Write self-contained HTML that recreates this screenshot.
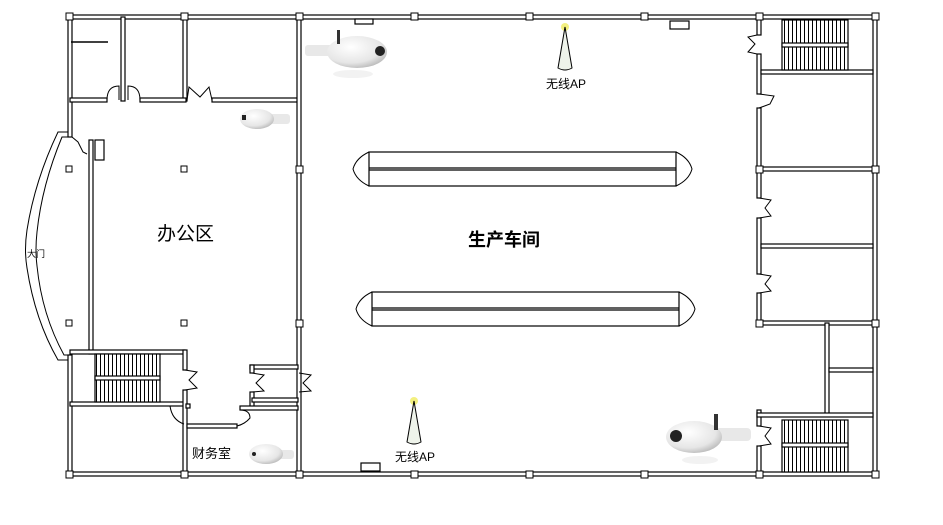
<!DOCTYPE html>
<html><head><meta charset="utf-8"><style>
html,body{margin:0;padding:0;background:#fff;}
svg{display:block;}
text{font-family:"Liberation Sans","Noto Sans CJK SC",sans-serif;}
</style></head><body>
<svg width="943" height="525" viewBox="0 0 943 525" xmlns="http://www.w3.org/2000/svg">
<defs>
<radialGradient id="cam" cx="0.4" cy="0.35" r="0.7"><stop offset="0" stop-color="#ffffff"/><stop offset="0.7" stop-color="#e6e6e6"/><stop offset="1" stop-color="#b8b8b8"/></radialGradient>
<pattern id="st" width="4" height="10" patternUnits="userSpaceOnUse"><rect width="4" height="10" fill="#fff"/><line x1="0.5" y1="0" x2="0.5" y2="10" stroke="#000" stroke-width="1"/></pattern>
</defs>
<g fill="#fff" stroke="#000" stroke-width="1.2">
<!-- outer walls -->
<rect x="69" y="15" width="807" height="4"/>
<rect x="69" y="472" width="807" height="4"/>
<rect x="873" y="15" width="4" height="461"/>
<rect x="68" y="15" width="4" height="122"/>
<rect x="68" y="355" width="4" height="121"/>
<!-- top-left rooms -->
<rect x="121" y="17" width="4" height="84"/>
<rect x="183" y="17" width="4" height="84"/>
<line x1="71" y1="42" x2="108" y2="42" stroke-width="1.5"/>
<rect x="70" y="98" width="37" height="4"/>
<rect x="140" y="98" width="46" height="4"/>
<rect x="212" y="98" width="88" height="4"/>
<!-- office divider wall -->
<rect x="297" y="17" width="4" height="457"/>
<rect x="89" y="140" width="4" height="214"/>
<rect x="95" y="140" width="9" height="20"/>
<!-- lower left stair block -->
<rect x="70" y="350" width="115" height="4"/>
<rect x="70" y="402" width="115" height="4"/>
<rect x="183" y="350" width="4" height="20"/>
<rect x="183" y="390" width="4" height="84"/>
<rect x="95" y="354" width="65" height="48" fill="url(#st)"/>
<rect x="95" y="376" width="65" height="4"/>
<!-- small room near office -->
<rect x="250" y="365" width="48" height="4"/>
<rect x="250" y="365" width="4" height="8"/>
<rect x="250" y="392" width="4" height="16"/>
<rect x="252" y="398" width="46" height="4"/>
<rect x="240" y="406" width="58" height="4"/>
<rect x="187" y="424" width="50" height="4"/>
<rect x="186" y="404" width="4" height="4"/>
<!-- right side -->
<rect x="757" y="17" width="4" height="18"/>
<rect x="757" y="54" width="4" height="40"/>
<rect x="757" y="108" width="4" height="90"/>
<rect x="757" y="218" width="4" height="56"/>
<rect x="757" y="293" width="4" height="32"/>
<rect x="757" y="410" width="4" height="16"/>
<rect x="757" y="446" width="4" height="28"/>
<rect x="761" y="70" width="112" height="4"/>
<rect x="761" y="167" width="112" height="4"/>
<rect x="761" y="244" width="112" height="4"/>
<rect x="757" y="321" width="118" height="4"/>
<rect x="825" y="323" width="4" height="92"/>
<rect x="829" y="368" width="44" height="4"/>
<rect x="757" y="413" width="116" height="4"/>
<rect x="782" y="20" width="66" height="50" fill="url(#st)"/>
<rect x="782" y="43" width="66" height="4"/>
<rect x="782" y="420" width="66" height="52" fill="url(#st)"/>
<rect x="782" y="443" width="66" height="4"/>
<!-- fixtures -->
<rect x="670" y="21" width="19" height="8"/>
<rect x="361" y="463" width="19" height="8"/>
<rect x="355" y="19" width="18" height="5"/>
</g>
<!-- columns -->
<g fill="#fff" stroke="#000" stroke-width="1">
<rect x="66" y="13" width="7" height="7"/><rect x="181" y="13" width="7" height="7"/><rect x="296" y="13" width="7" height="7"/><rect x="411" y="13" width="7" height="7"/><rect x="526" y="13" width="7" height="7"/><rect x="641" y="13" width="7" height="7"/><rect x="756" y="13" width="7" height="7"/><rect x="872" y="13" width="7" height="7"/>
<rect x="66" y="471" width="7" height="7"/><rect x="181" y="471" width="7" height="7"/><rect x="296" y="471" width="7" height="7"/><rect x="411" y="471" width="7" height="7"/><rect x="526" y="471" width="7" height="7"/><rect x="641" y="471" width="7" height="7"/><rect x="756" y="471" width="7" height="7"/><rect x="872" y="471" width="7" height="7"/>
<rect x="66" y="166" width="6" height="6"/><rect x="181" y="166" width="6" height="6"/><rect x="296" y="166" width="7" height="7"/><rect x="756" y="166" width="7" height="7"/><rect x="872" y="166" width="7" height="7"/>
<rect x="66" y="320" width="6" height="6"/><rect x="181" y="320" width="6" height="6"/><rect x="296" y="320" width="7" height="7"/><rect x="756" y="320" width="7" height="7"/><rect x="872" y="320" width="7" height="7"/>
</g>
<!-- doors -->
<g fill="none" stroke="#000" stroke-width="1">
<path d="M107 100 Q107 86 119 86 L119 100"/><path d="M140 100 Q140 86 128 86 L128 100"/>
<path d="M187 100 L189 87 L200 97 L209 87 L212 100"/>
<path d="M185 370 L197 372 L189 380 L197 388 L185 390"/>
<path d="M252 373 L264 375 L256 383 L264 391 L252 392"/>
<path d="M299 373 L311 375 L303 383 L311 391 L299 392"/>
<path d="M170 406 Q172 420 184 424"/><path d="M240 410 Q250 410 250 418 Q245 424 237 426"/>
<path d="M757 35 L748 37 L755 44 L748 52 L757 54"/>
<path d="M759 94 L774 96 L770 104 L759 108"/>
<path d="M759 198 L771 200 L765 208 L771 216 L759 218"/>
<path d="M759 274 L771 276 L765 284 L771 291 L759 293"/>
<path d="M759 426 L771 428 L765 436 L771 444 L759 446"/>
<path d="M72 137 L78 142 L83 152 L87 154"/>
</g>
<!-- curved facade -->
<g fill="none" stroke="#000" stroke-width="1">
<path d="M68 132 L58 132 Q35 180 27 230 Q24 250 27 268 Q35 320 58 360 L68 360"/>
<path d="M68 137 L62 137 Q42 185 37 232 Q35 250 37 266 Q42 315 64 355 L68 355"/>
<text x="27" y="257" font-size="9" fill="#000" stroke="none">大门</text>
</g>
<!-- conveyors -->
<g fill="#fff" stroke="#000" stroke-width="1.2">
<rect x="369" y="152" width="307" height="34"/>
<line x1="369" y1="168" x2="676" y2="168"/><line x1="369" y1="170" x2="676" y2="170"/>
<path d="M369 152 Q356 158 353 169 Q356 180 369 186" fill="none" stroke-width="1"/>
<path d="M676 152 Q689 158 692 169 Q689 180 676 186" fill="none" stroke-width="1"/>
<rect x="372" y="292" width="307" height="34"/>
<line x1="372" y1="308" x2="679" y2="308"/><line x1="372" y1="310" x2="679" y2="310"/>
<path d="M372 292 Q359 298 356 309 Q359 320 372 326" fill="none" stroke-width="1"/>
<path d="M679 292 Q692 298 695 309 Q692 320 679 326" fill="none" stroke-width="1"/>
</g>
<!-- APs -->
<g>
<circle cx="565" cy="27" r="4" fill="#f3f080"/>
<path d="M565 27 L558 68 Q565 72 572 68 Z" fill="#eef3ea" stroke="#000" stroke-width="1"/>
<text x="546" y="88" font-size="12" fill="#000">无线AP</text>
<circle cx="414" cy="401" r="4" fill="#f3f080"/>
<path d="M414 401 L407 442 Q414 446 421 442 Z" fill="#eef3ea" stroke="#000" stroke-width="1"/>
<text x="395" y="461" font-size="12" fill="#000">无线AP</text>
</g>
<!-- cameras -->
<g>
<rect x="305" y="45" width="30" height="11" rx="3" fill="#e8e8e8"/>
<ellipse cx="357" cy="52" rx="30" ry="16" fill="url(#cam)"/>
<rect x="337" y="30" width="3" height="14" fill="#333"/>
<circle cx="380" cy="51" r="5" fill="#222"/>
<ellipse cx="353" cy="74" rx="20" ry="4" fill="#f2f2f2"/>
<rect x="266" y="114" width="24" height="10" rx="3" fill="#e8e8e8"/>
<ellipse cx="257" cy="119" rx="17" ry="10" fill="url(#cam)"/>
<rect x="242" y="115" width="4" height="5" fill="#222"/>
<rect x="276" y="450" width="18" height="9" rx="3" fill="#e8e8e8"/>
<ellipse cx="266" cy="454" rx="17" ry="10" fill="url(#cam)"/>
<circle cx="254" cy="454" r="2" fill="#222"/>
<rect x="715" y="428" width="36" height="13" rx="4" fill="#e8e8e8"/>
<ellipse cx="694" cy="437" rx="28" ry="16" fill="url(#cam)"/>
<rect x="714" y="414" width="4" height="16" fill="#333"/>
<circle cx="676" cy="436" r="6" fill="#222"/>
<ellipse cx="700" cy="460" rx="18" ry="4" fill="#f2f2f2"/>
</g>
<!-- labels -->
<text x="157" y="240" font-size="19" fill="#000">办公区</text>
<text x="468" y="246" font-size="18" font-weight="bold" fill="#000">生产车间</text>
<text x="192" y="458" font-size="13" fill="#000">财务室</text>
</svg>
</body></html>
